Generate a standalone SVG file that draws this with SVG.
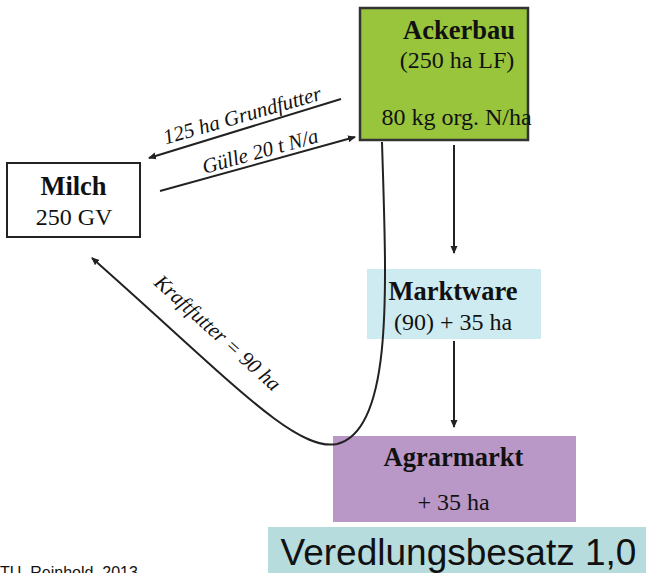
<svg xmlns="http://www.w3.org/2000/svg" width="646" height="573" viewBox="0 0 646 573">
<defs>
<marker id="ah" markerWidth="8" markerHeight="8" refX="7" refY="4" orient="auto" markerUnits="userSpaceOnUse">
<path d="M0,0.5 L8,4 L0,7.5 Z" fill="#222"/>
</marker>
<style>
.t{font-family:"Liberation Serif","Times New Roman",serif;fill:#111;text-anchor:middle}
.b{font-weight:bold;font-size:26.5px}
.r{font-size:24px}
.i{font-style:italic;font-size:21px}
.ln{fill:none;stroke:#222;stroke-width:2}
</style>
</defs>
<rect width="646" height="573" fill="#fff"/>
<g id="ackerbau">
<rect x="360" y="8" width="168" height="132" fill="#98c53c" stroke="#333" stroke-width="2.5"/>
<text class="t b" x="459" y="39">Ackerbau</text>
<text class="t r" x="457" y="68">(250 ha LF)</text>
<text class="t r" x="456.5" y="125">80 kg org. N/ha</text>
</g>
<g id="milch">
<rect x="7" y="163" width="133" height="74" fill="#fff" stroke="#222" stroke-width="2"/>
<text class="t b" x="73.5" y="195">Milch</text>
<text class="t r" x="74" y="225">250 GV</text>
</g>
<g id="marktware">
<rect x="367" y="269" width="174" height="70" fill="#cdebf0"/>
<text class="t b" x="453" y="300">Marktware</text>
<text class="t r" x="453" y="330">(90) + 35 ha</text>
</g>
<g id="agrarmarkt">
<rect x="333" y="436" width="243" height="86" fill="#b997c6"/>
<text class="t b" x="453.5" y="466">Agrarmarkt</text>
<text class="t r" x="453.5" y="510">+ 35 ha</text>
</g>
<g id="veredlung">
<rect x="268" y="527" width="378" height="46" fill="#b7dcde"/>
<text x="458.5" y="565" font-family="Liberation Sans, Arial, sans-serif" font-size="37" text-anchor="middle" fill="#111">Veredlungsbesatz 1,0</text>
</g>
<g id="connectors">
<line class="ln" x1="341" y1="99" x2="149" y2="158" marker-end="url(#ah)"/>
<line class="ln" x1="160" y1="191" x2="355" y2="137" marker-end="url(#ah)"/>
<line class="ln" x1="454" y1="145" x2="454" y2="253" marker-end="url(#ah)"/>
<line class="ln" x1="454" y1="341" x2="454" y2="427" marker-end="url(#ah)"/>
<path class="ln" d="M382 142 C386 280 395 430 337 444 C295 452 230 380 92 258" marker-end="url(#ah)"/>
<text class="t i" transform="translate(244,122) rotate(-16)">125 ha Grundfutter</text>
<text class="t i" transform="translate(262,158) rotate(-15.5)">Gülle 20 t N/a</text>
<text class="t i" transform="translate(213,338) rotate(42)">Kraftfutter  = 90 ha</text>
</g>
<text x="0" y="578" font-family="Liberation Sans, Arial, sans-serif" font-size="16" fill="#111">TU, Reinhold, 2013</text>
</svg>
